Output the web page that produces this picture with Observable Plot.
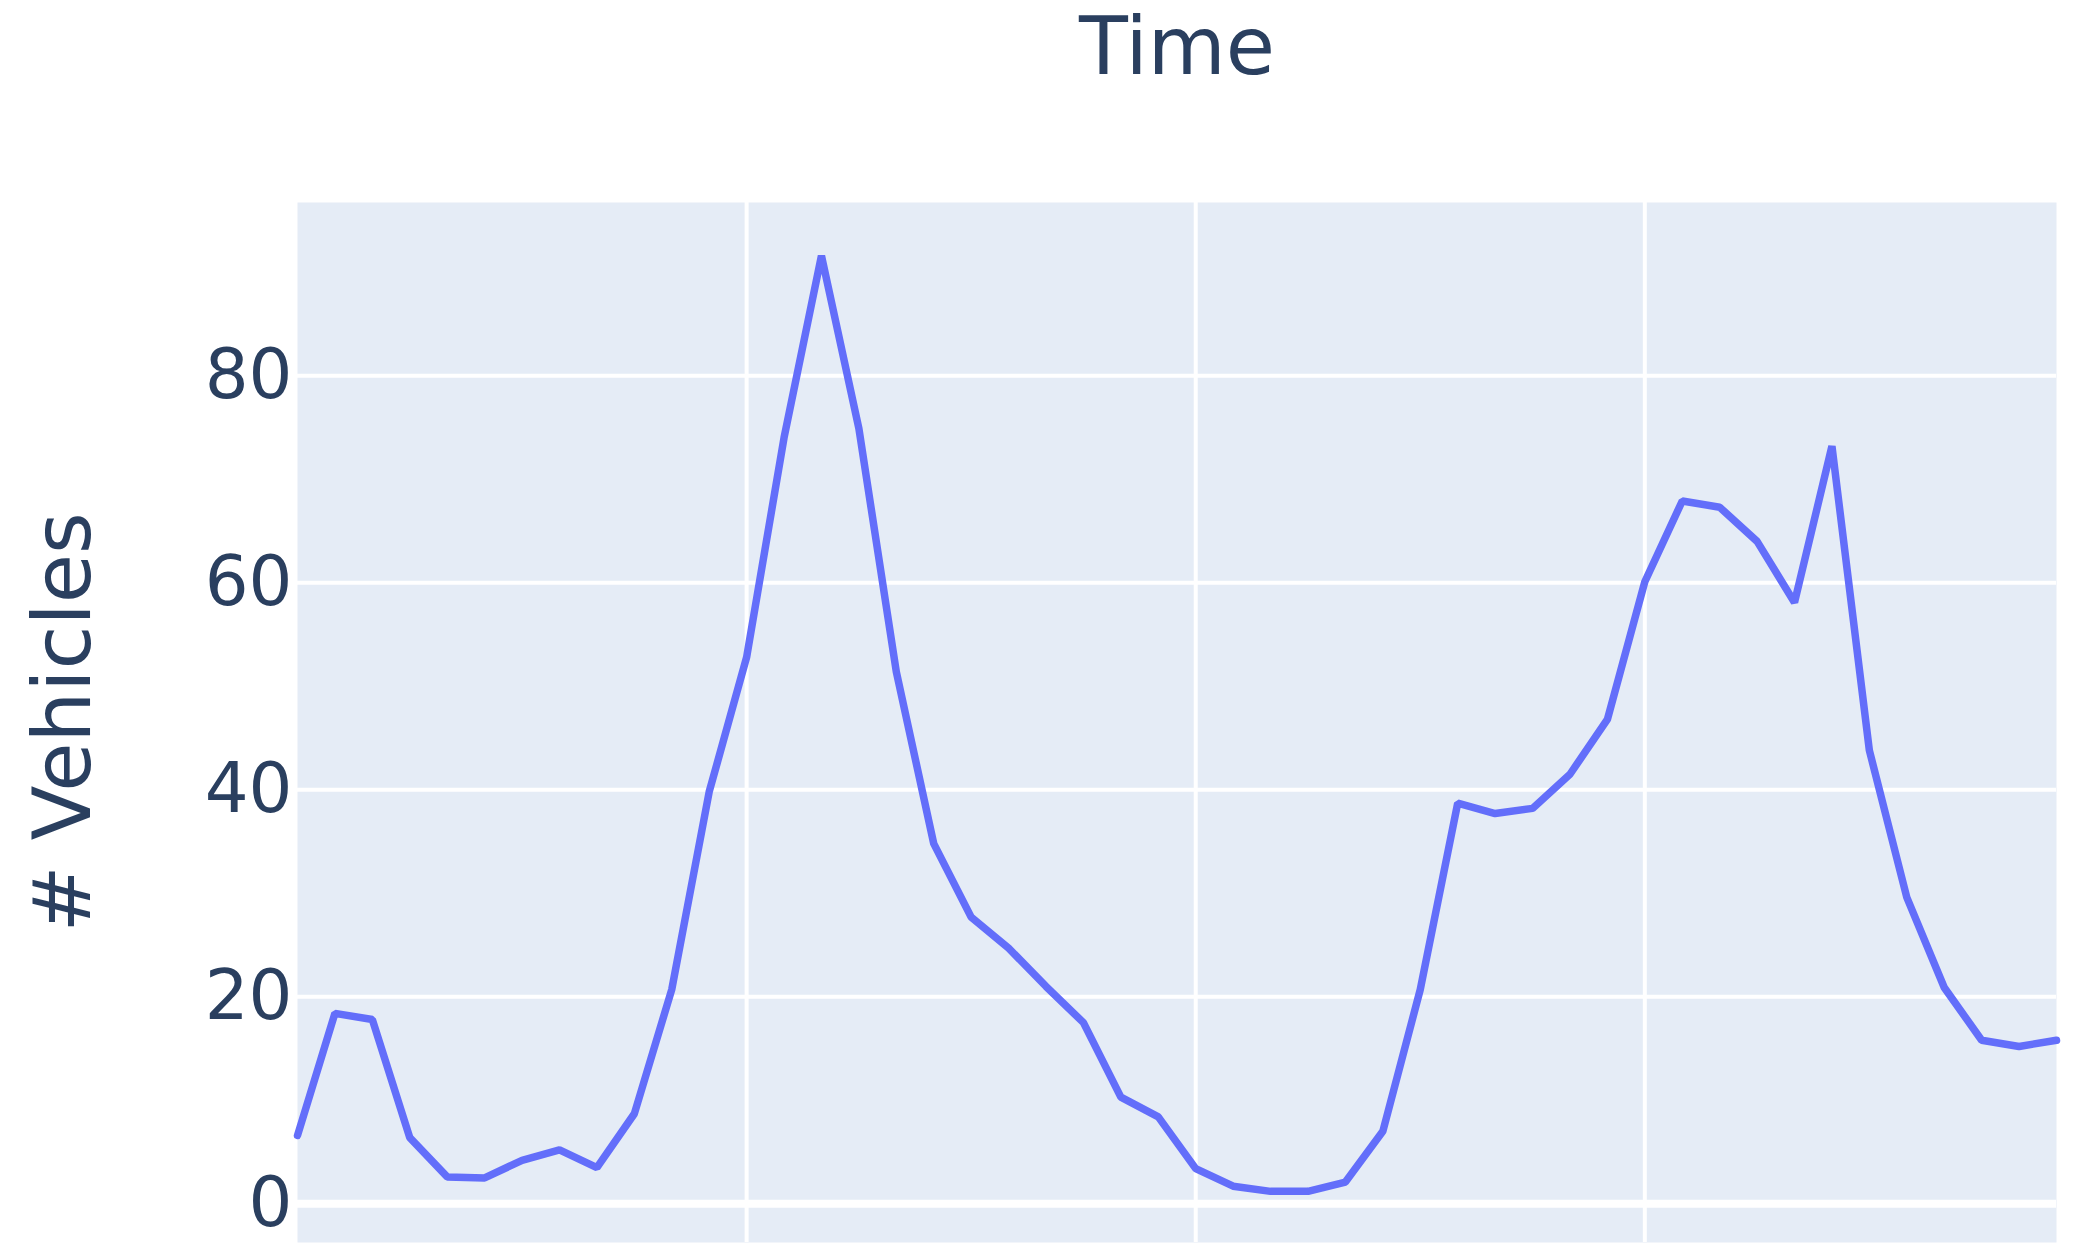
<!DOCTYPE html>
<html>
<head>
<meta charset="utf-8">
<script src="https://cdn.jsdelivr.net/npm/d3@7"></script>
<script src="https://cdn.jsdelivr.net/npm/@observablehq/plot@0.6"></script>
<style>
  html, body { margin: 0; padding: 0; background: #ffffff; }
  #chart svg { display: block; }
</style>
</head>
<body>
<div id="chart"></div>
<script>
const times = [
  "00:00","00:30","01:00","01:30","02:00","02:30","03:00","03:30",
  "04:00","04:30","05:00","05:30","06:00","06:30","07:00","07:30",
  "08:00","08:30","09:00","09:30","10:00","10:30","11:00","11:30",
  "12:00","12:30","13:00","13:30","14:00","14:30","15:00","15:30",
  "16:00","16:30","17:00","17:30","18:00","18:30","19:00","19:30",
  "20:00","20:30","21:00","21:30","22:00","22:30","23:00","23:30"
];
const vehicles = [
  6.6, 18.4, 17.8, 6.4, 2.6, 2.5, 4.2, 5.2,
  3.5, 8.7, 20.7, 39.8, 52.8, 74.0, 91.6, 74.9,
  51.4, 34.8, 27.7, 24.7, 21.0, 17.5, 10.3, 8.4,
  3.4, 1.7, 1.2, 1.2, 2.1, 7.0, 20.7, 38.7,
  37.7, 38.2, 41.5, 46.8, 60.1, 67.9, 67.3, 64.0,
  58.1, 73.2, 43.8, 29.6, 20.9, 15.8, 15.2, 15.8
];
const xGridTicks = ["06:00", "12:00", "18:00"];
const yTicks = [0, 20, 40, 60, 80];
const xTitle = "Time";
const yTitle = "# Vehicles";

const data = times.map((t, i) => ({time: t, value: vehicles[i]}));

const chart = Plot.plot({
  width: 2073,
  height: 1254,
  marginLeft: 297,
  marginRight: 17,
  marginTop: 202,
  marginBottom: 12,
  style: {fontFamily: "DejaVu Sans", background: "#ffffff", color: "#2a3f5f"},
  x: {type: "point", domain: times, padding: 0, round: false, axis: null},
  y: {domain: [-3.74, 96.74], axis: null},
  marks: [
    Plot.frame({fill: "#E5ECF6", stroke: "none"}),
    Plot.gridX(xGridTicks, {stroke: "#ffffff", strokeOpacity: 1, strokeWidth: 4}),
    Plot.gridY(yTicks.filter(d => d !== 0), {stroke: "#ffffff", strokeOpacity: 1, strokeWidth: 4}),
    Plot.ruleY([0], {stroke: "#ffffff", strokeWidth: 8}),
    Plot.line(data, {x: "time", y: "value", stroke: "#636EFA", strokeWidth: 7.5, strokeLinejoin: "miter"}),
    Plot.axisY(yTicks, {
      anchor: "left", tickSize: 0, tickPadding: 5, fontSize: 69,
      fill: "#2a3f5f", label: null, tickFormat: d => String(d)
    }),
    Plot.text([xTitle], {
      frameAnchor: "top", dy: -185, lineAnchor: "top",
      fontSize: 80, fill: "#2a3f5f"
    }),
    Plot.text([yTitle], {
      frameAnchor: "left", dx: 64 - 297, rotate: -90, lineAnchor: "middle",
      textAnchor: "middle", fontSize: 80, fill: "#2a3f5f"
    })
  ]
});
document.getElementById("chart").appendChild(chart);
</script>
</body>
</html>
